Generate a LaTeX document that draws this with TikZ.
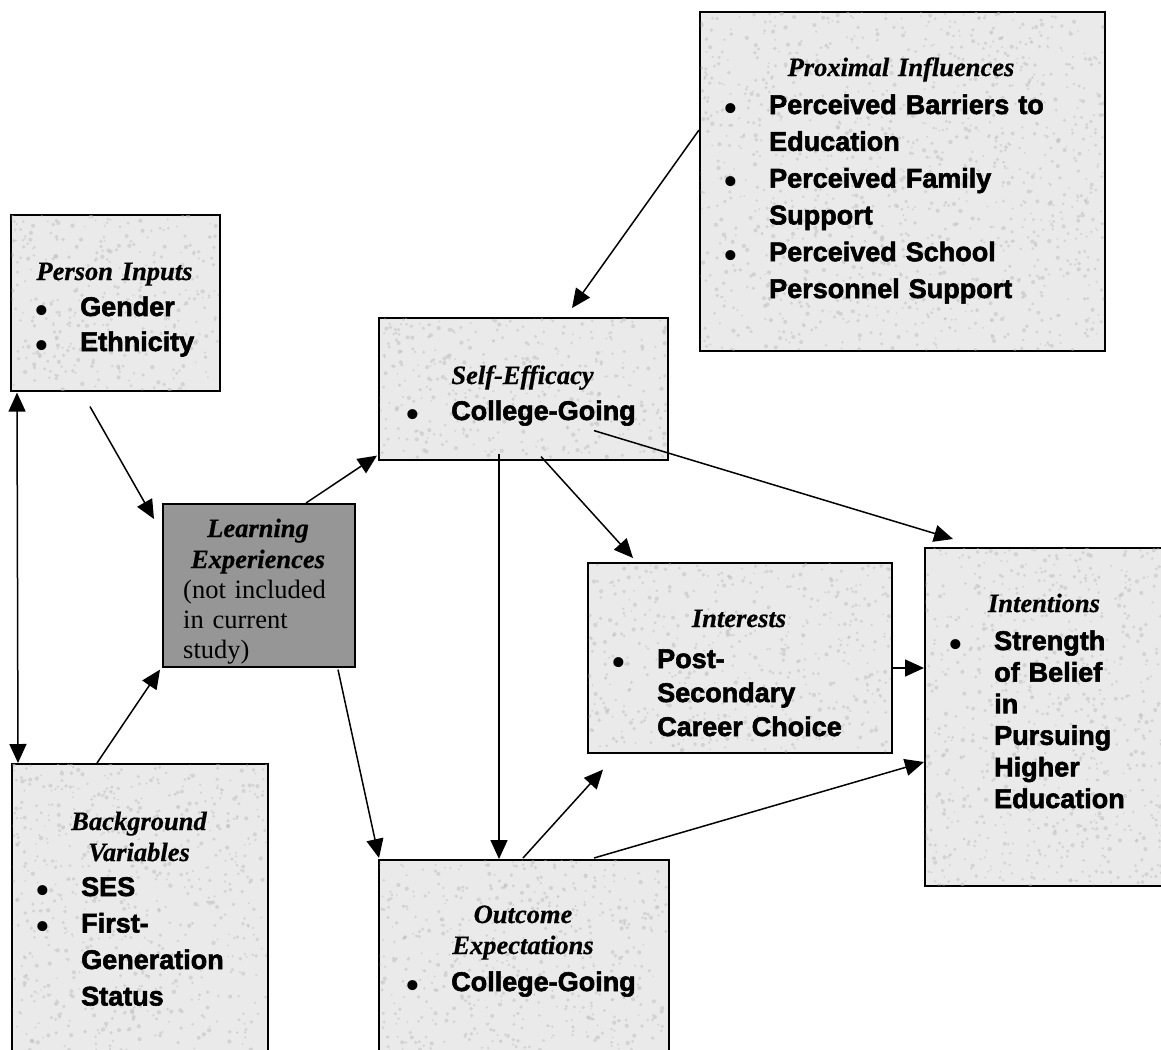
\documentclass[tikz,border=0pt]{standalone}
\usepackage{fontspec}
\setmainfont{Liberation Serif}[BoldItalicFeatures={FakeBold=0.6}]
\newfontfamily\labelsans{Liberation Sans}[BoldFeatures={FakeBold=2.2}]
\usetikzlibrary{arrows.meta,calc}

\definecolor{paper}{RGB}{234,234,234}
\definecolor{grain}{RGB}{190,190,190}
\definecolor{shade}{RGB}{150,150,150}

% fonts: bold italic headings, bold sans bullet items, roman notes
\newcommand\hdf{\rmfamily\bfseries\itshape\fontsize{26.5}{31}\selectfont}
\newcommand\bodyf[1]{\labelsans\bfseries\fontsize{27}{#1}\selectfont\parindent=0pt\relax}
\newcommand\notef{\rmfamily\fontsize{26.5}{30.3}\selectfont}

% one bulleted entry with a hanging indent
\newlength\bulind
\setlength\bulind{46pt}
\newcommand\bulletmark{\raisebox{-8pt}[0pt][0pt]{\scalebox{1.5}{\rmfamily\mdseries\fontsize{28}{28}\selectfont\textbullet}}}
\newcommand\entry[1]{\noindent\hangindent=\bulind\hangafter=1%
  \makebox[\bulind][l]{\bulletmark}#1\par}

% granite-like grain inside a panel: name, width, height
\newcommand\speckle[3]{%
  \begin{scope}
    \clip ($(#1.north west)+(1.5,1.5)$) rectangle ($(#1.south east)+(-1.5,-1.5)$);
    \pgfmathtruncatemacro\ndark{(#2/105)*#3}
    \foreach \k in {1,...,\ndark}
      \fill[grain, opacity=0.5] ($(#1.north west)+({rnd*#2},{rnd*#3})$) circle ({0.9+1.3*rnd});
  \end{scope}}

\tikzset{
  panel/.style={draw=black, line width=1.6pt, fill=paper, rectangle, inner sep=0pt, anchor=north west},
  darkpanel/.style={panel, fill=shade},
  heading/.style={anchor=base, inner sep=0pt, align=center, font=\hdf},
  bullets/.style={anchor=base west, inner sep=0pt, text width=420pt},
  link/.style={line width=1.5pt, -{Triangle[length=19pt, width=17pt]}},
  twoway/.style={line width=1.5pt, {Triangle[length=19pt, width=17pt]}-{Triangle[length=19pt, width=17pt]}}
}

\begin{document}
\begin{tikzpicture}[x=1pt, y=-1pt]
\clip (0,0) rectangle (1161,1049);
\fill[white] (0,0) rectangle (1161,1049);
\pgfmathsetseed{4711}

% ---- boxes ----
\node[panel, minimum width=209pt, minimum height=176pt] (pi) at (10,214) {};
\node[panel, minimum width=405pt, minimum height=339pt] (prox) at (699,11) {};
\node[panel, minimum width=289pt, minimum height=142pt] (se) at (378,317) {};
\node[darkpanel, minimum width=192pt, minimum height=163pt] (le) at (162,503) {};
\node[panel, minimum width=304pt, minimum height=190pt] (in) at (587,562) {};
\node[panel, minimum width=280pt, minimum height=338pt] (int) at (924,547) {};
\node[panel, minimum width=256pt, minimum height=300pt] (bv) at (11,763) {};
\node[panel, minimum width=290pt, minimum height=200pt] (oe) at (378,859) {};

\speckle{pi}{209}{176}
\speckle{prox}{405}{339}
\speckle{se}{289}{142}
\speckle{in}{304}{190}
\speckle{int}{240}{338}
\speckle{bv}{256}{290}
\speckle{oe}{290}{192}

% ---- texts ----
\node[heading, text width=209pt] (pih) at (114.5,280) {Person Inputs};
\node[bullets, font={\bodyf{35}}] (pil) at (34,316) {\entry{Gender}\entry{Ethnicity}};

\node[heading, text width=405pt] (proxh) at (901,76) {Proximal Influences};
\node[bullets, font={\bodyf{36.8}}] (proxl) at (723,114)
  {\entry{Perceived Barriers to\newline Education}%
   \entry{Perceived Family\newline Support}%
   \entry{Perceived School\newline Personnel Support}};

\node[heading, text width=289pt] (seh) at (522.5,384) {Self-Efficacy};
\node[bullets, font={\bodyf{36}}] (sel) at (405,420) {\entry{College-Going}};

\node[heading, text width=192pt] (leh) at (258,537) {Learning\\Experiences};
\node[anchor=base west, inner sep=0pt, text width=170pt, align=left, font=\notef] (len) at (183,598)
  {(not included\\in current\\study)};

\node[heading, text width=304pt] (inh) at (739,627) {Interests};
\node[bullets, font={\bodyf{34}}] (inl) at (611,668)
  {\entry{Post-\newline Secondary\newline Career Choice}};

\node[heading, text width=251pt] (inth) at (1044,612) {Intentions};
\node[bullets, font={\bodyf{31.6}}] (intl) at (948,650)
  {\entry{Strength\newline of Belief\newline in\newline Pursuing\newline Higher\newline Education}};

\node[heading, text width=256pt] (bvh) at (139,830) {Background\\Variables};
\node[bullets, font={\bodyf{36.5}}] (bvl) at (35,896)
  {\entry{SES}\entry{First-\newline Generation\newline Status}};

\node[heading, text width=290pt] (oeh) at (523,923) {Outcome\\Expectations};
\node[bullets, font={\bodyf{36}}] (oel) at (405,991) {\entry{College-Going}};

% ---- connectors ----
\draw[link] ($(pi.south west)+(80,15)$) -- ($(le.north west)+(-8,16)$);
\draw[link] ($(bv.north west)+(86,0)$) -- ($(le.south west)+(-2,2)$);
\draw[twoway] ($(pi.south west)+(7,1)$) -- ($(bv.north west)+(7,0)$);
\draw[link] ($(le.north west)+(144,0)$) -- ($(se.south west)+(-1,-5)$);
\draw[link] ($(le.south west)+(176,2)$) -- ($(oe.north west)+(1,-1)$);
\draw[link] ($(prox.north west)+(0,119)$) -- ($(se.north west)+(194,-9)$);
\draw[link] ($(se.south west)+(121,-7)$) -- ($(oe.north west)+(121,0)$);
\draw[link] ($(se.south west)+(163,-4)$) -- ($(in.north west)+(46,-4)$);
\draw[link] ($(se.south west)+(216,-30)$) -- ($(int.north west)+(29,-8)$);
\draw[link] ($(in.north east)+(0,106)$) -- ($(int.north west)+(0,121)$);
\draw[link] ($(oe.north west)+(145,-1)$) -- ($(in.south west)+(16,16)$);
\draw[link] ($(oe.north west)+(216,-1)$) -- ($(int.north west)+(0,215)$);
\end{tikzpicture}
\end{document}
